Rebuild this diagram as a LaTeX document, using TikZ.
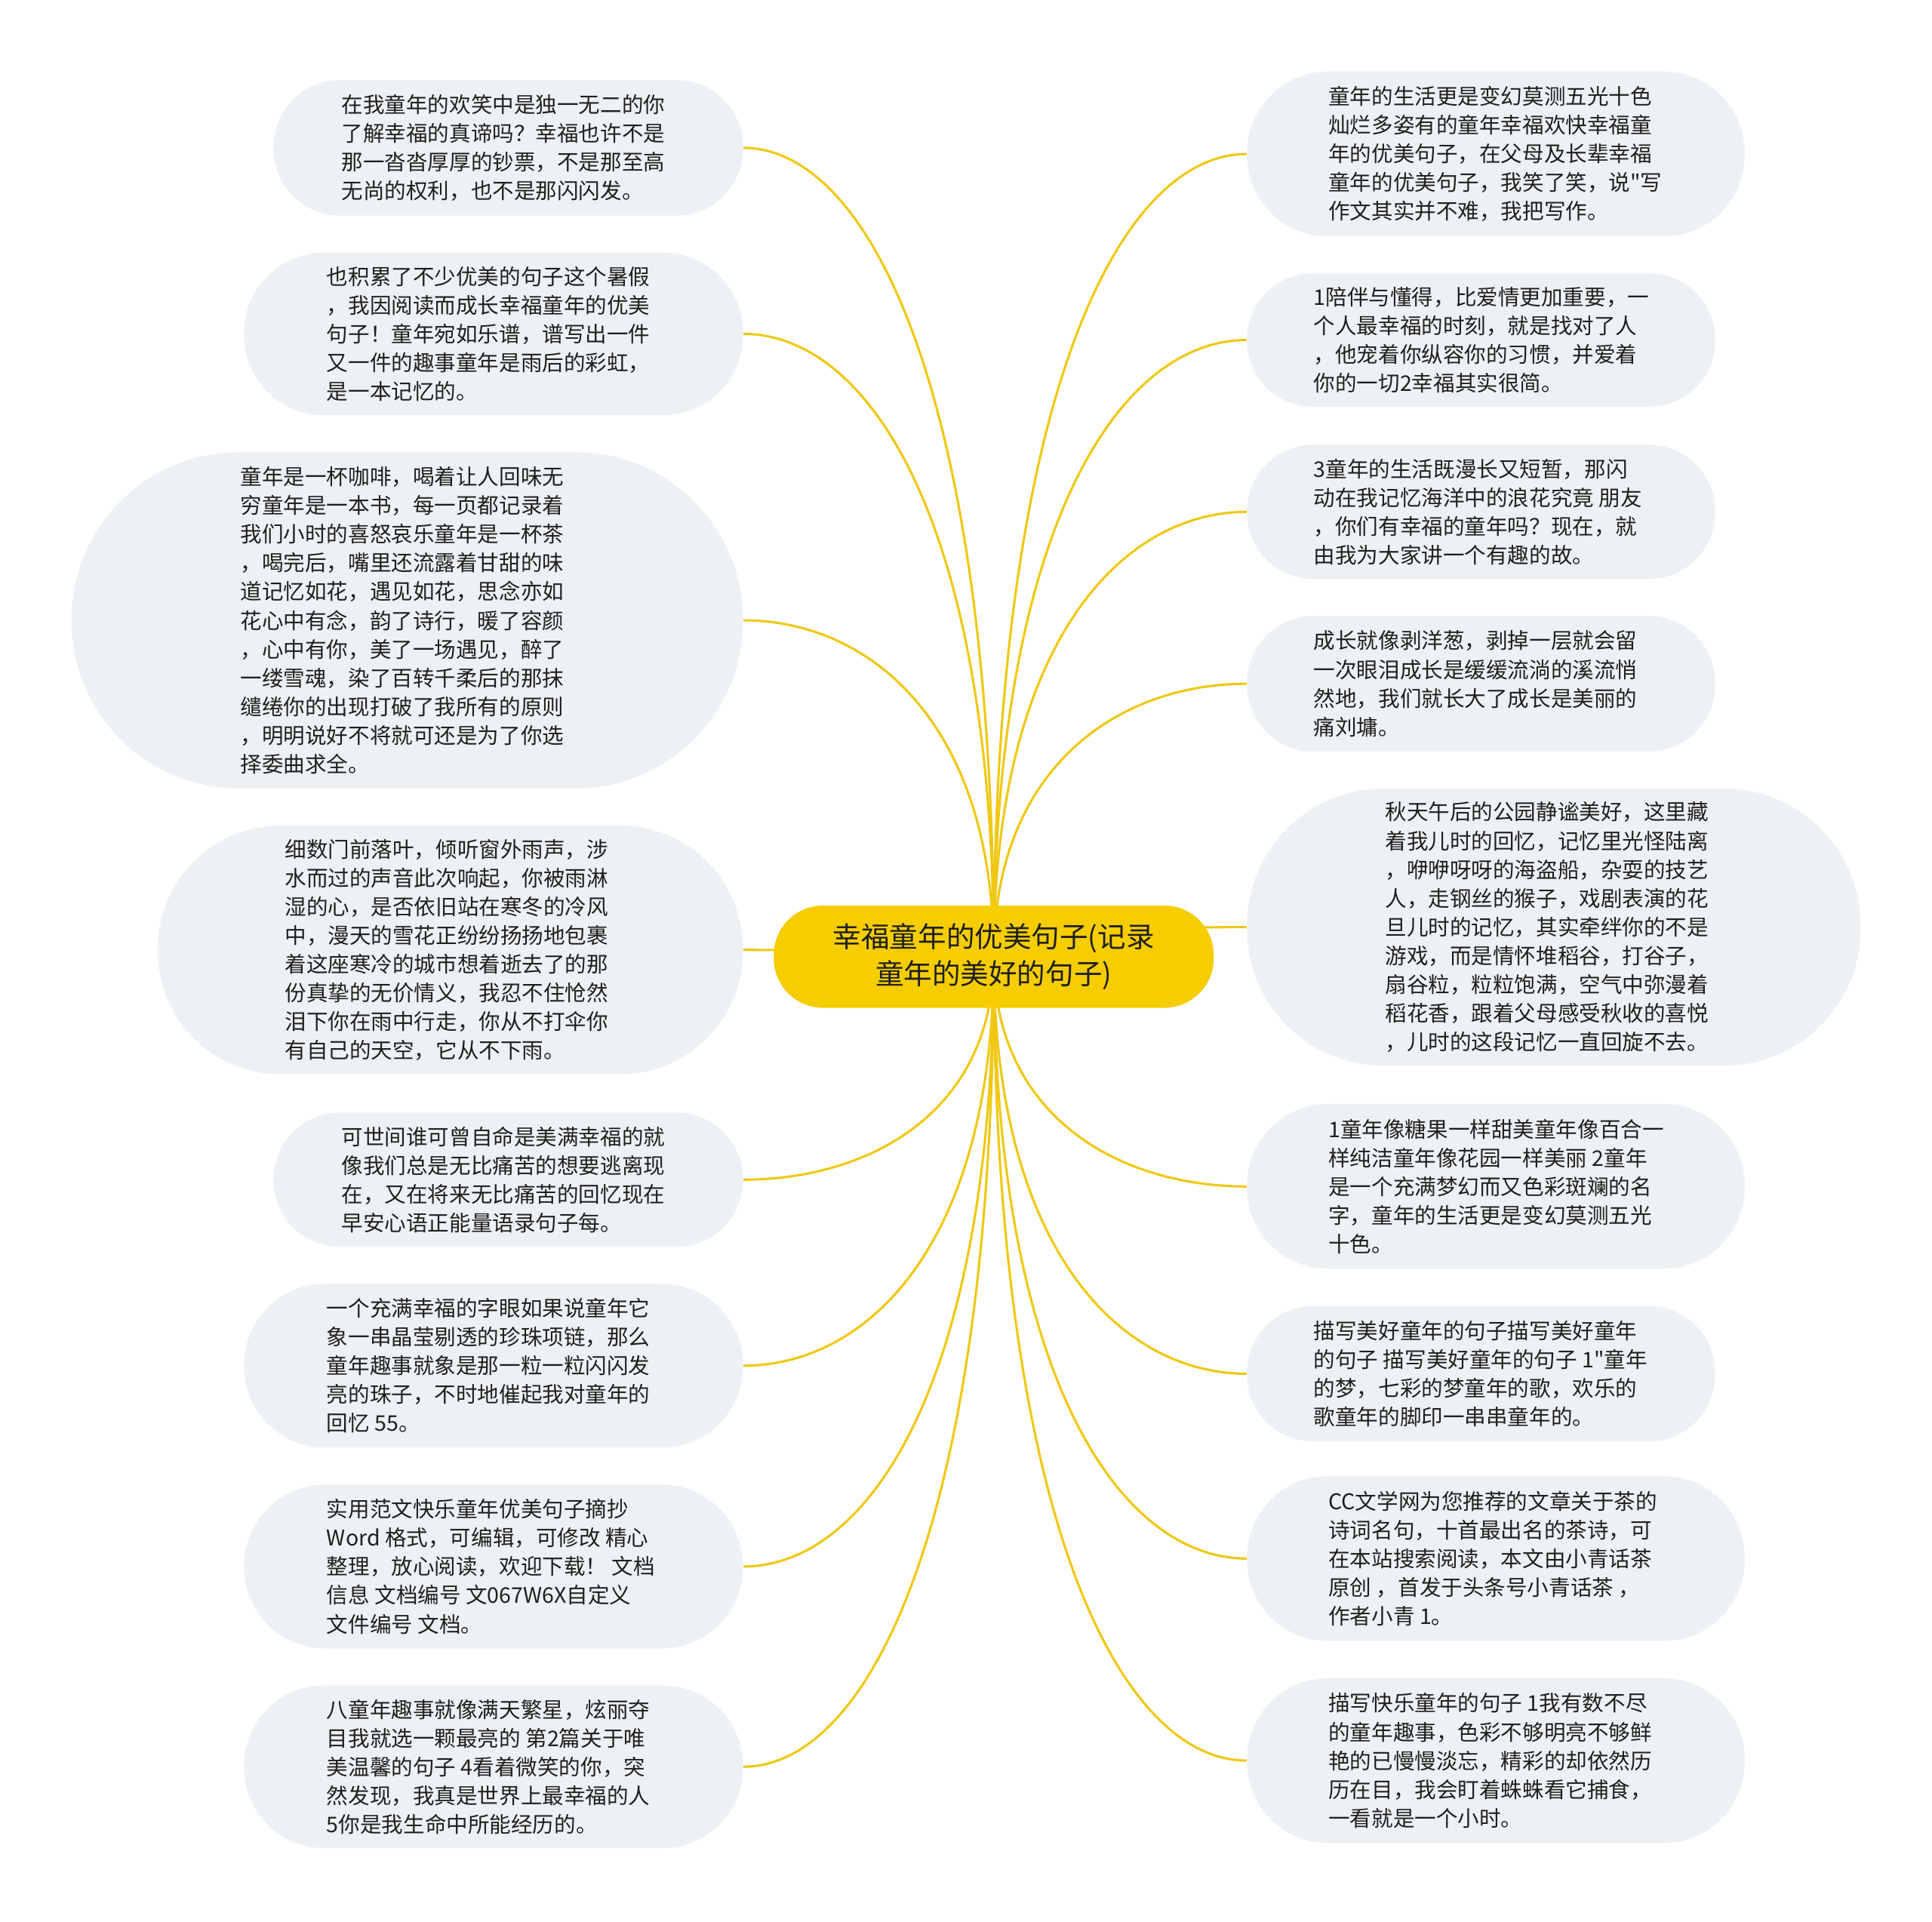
\documentclass[tikz,border=0pt]{standalone}
\usepackage{fontspec}
\setmainfont{Noto Sans CJK SC}[Ligatures=TeXOff]
\usetikzlibrary{calc}
\definecolor{rootfill}{HTML}{F5CD00}
\definecolor{linecol}{HTML}{F0C814}
\definecolor{bubfill}{HTML}{EEF1F4}
\definecolor{txtcol}{HTML}{1F1F1F}
\pgfdeclarelayer{bg}
\pgfsetlayers{bg,main}
\newcommand\bub[6]{\node[bubble, minimum width=#4pt, minimum height=#5pt, rounded corners=#6pt] (#1) at (#2,#3) {};}
\newcommand\linkto[2]{\draw[conn] (root.center) .. controls ($(root.center)!0.7!(root.center |- #1.#2)$) and ($(#1.#2)!0.5!(root.center |- #1.#2)$) .. (#1.#2);}
\begin{document}
\begin{tikzpicture}[x=1pt,y=-1pt,
  bubble/.style={draw=none, fill=bubfill, rectangle, inner sep=0pt},
  txt/.style={anchor=west, align=left, inner sep=0pt, text=txtcol, font=\fontsize{17.5}{23.3}\selectfont},
  conn/.style={draw=linecol, line width=1.9pt},
  rootbox/.style={fill=rootfill, rounded corners=40pt, minimum width=357pt, minimum height=83pt, inner sep=0pt, text=txtcol, align=center, font=\fontsize{23}{30}\selectfont}]

\useasboundingbox (0,0) rectangle (1568,1560);

% root
\node[rootbox] (root) at (806.5,776.5) {幸福童年的优美句子(记录\\童年的美好的句子)};

% left bubbles
\bub{L1}{412.5}{120}{381}{110}{54}
\bub{L2}{400.5}{271}{405}{132}{65}
\bub{L3}{330.5}{503.5}{545}{273}{136}
\bub{L4}{365.5}{771}{475}{202}{100}
\bub{L5}{412.5}{957.5}{381}{109}{54}
\bub{L6}{400.5}{1108.5}{405}{133}{66}
\bub{L7}{400.5}{1271.5}{405}{133}{66}
\bub{L8}{400.5}{1434}{405}{132}{65}
% right bubbles
\bub{R1}{1214}{125}{404}{134}{66}
\bub{R2}{1202}{276}{380}{108}{53}
\bub{R3}{1202}{415.5}{380}{109}{54}
\bub{R4}{1202}{555}{380}{110}{54}
\bub{R5}{1261}{752.5}{498}{225}{111}
\bub{R6}{1214}{963}{404}{134}{66}
\bub{R7}{1202}{1115}{380}{110}{54}
\bub{R8}{1214}{1265}{404}{134}{66}
\bub{R9}{1214}{1429}{404}{134}{66}

% connectors
\begin{pgfonlayer}{bg}
\fill[white] (0,0) rectangle (1568,1560);
\foreach \n in {L1,L2,L3,L4,L5,L6,L7,L8}{\linkto{\n}{east}}
\foreach \n in {R1,R2,R3,R4,R5,R6,R7,R8,R9}{\linkto{\n}{west}}
\end{pgfonlayer}

% texts
\node[txt] (L1t) at (277,120) {在我童年的欢笑中是独一无二的你\\了解幸福的真谛吗？幸福也许不是\\那一沓沓厚厚的钞票，不是那至高\\无尚的权利，也不是那闪闪发。};
\node[txt] (L2t) at (265,271) {也积累了不少优美的句子这个暑假\\，我因阅读而成长幸福童年的优美\\句子！童年宛如乐谱，谱写出一件\\又一件的趣事童年是雨后的彩虹，\\是一本记忆的。};
\node[txt] (L3t) at (195,503.5) {童年是一杯咖啡，喝着让人回味无\\穷童年是一本书，每一页都记录着\\我们小时的喜怒哀乐童年是一杯茶\\，喝完后，嘴里还流露着甘甜的味\\道记忆如花，遇见如花，思念亦如\\花心中有念，韵了诗行，暖了容颜\\，心中有你，美了一场遇见，醉了\\一缕雪魂，染了百转千柔后的那抹\\缱绻你的出现打破了我所有的原则\\，明明说好不将就可还是为了你选\\择委曲求全。};
\node[txt] (L4t) at (231,771) {细数门前落叶，倾听窗外雨声，涉\\水而过的声音此次响起，你被雨淋\\湿的心，是否依旧站在寒冬的冷风\\中，漫天的雪花正纷纷扬扬地包裹\\着这座寒冷的城市想着逝去了的那\\份真挚的无价情义，我忍不住怆然\\泪下你在雨中行走，你从不打伞你\\有自己的天空，它从不下雨。};
\node[txt] (L5t) at (277,957.5) {可世间谁可曾自命是美满幸福的就\\像我们总是无比痛苦的想要逃离现\\在，又在将来无比痛苦的回忆现在\\早安心语正能量语录句子每。};
\node[txt] (L6t) at (265,1108.5) {一个充满幸福的字眼如果说童年它\\象一串晶莹剔透的珍珠项链，那么\\童年趣事就象是那一粒一粒闪闪发\\亮的珠子，不时地催起我对童年的\\回忆 55。};
\node[txt] (L7t) at (265,1271.5) {实用范文快乐童年优美句子摘抄\\Word 格式，可编辑，可修改 精心\\整理，放心阅读，欢迎下载！ 文档\\信息 文档编号 文067W6X自定义\\文件编号 文档。};
\node[txt] (L8t) at (265,1434) {八童年趣事就像满天繁星，炫丽夺\\目我就选一颗最亮的 第2篇关于唯\\美温馨的句子 4看着微笑的你，突\\然发现，我真是世界上最幸福的人\\5你是我生命中所能经历的。};

\node[txt] (R1t) at (1078,125) {童年的生活更是变幻莫测五光十色\\灿烂多姿有的童年幸福欢快幸福童\\年的优美句子，在父母及长辈幸福\\童年的优美句子，我笑了笑，说"写\\作文其实并不难，我把写作。};
\node[txt] (R2t) at (1066,276) {1陪伴与懂得，比爱情更加重要，一\\个人最幸福的时刻，就是找对了人\\，他宠着你纵容你的习惯，并爱着\\你的一切2幸福其实很简。};
\node[txt] (R3t) at (1066,415.5) {3童年的生活既漫长又短暂，那闪\\动在我记忆海洋中的浪花究竟 朋友\\，你们有幸福的童年吗？现在，就\\由我为大家讲一个有趣的故。};
\node[txt] (R4t) at (1066,555) {成长就像剥洋葱，剥掉一层就会留\\一次眼泪成长是缓缓流淌的溪流悄\\然地，我们就长大了成长是美丽的\\痛刘墉。};
\node[txt] (R5t) at (1124,752.5) {秋天午后的公园静谧美好，这里藏\\着我儿时的回忆，记忆里光怪陆离\\，咿咿呀呀的海盗船，杂耍的技艺\\人，走钢丝的猴子，戏剧表演的花\\旦儿时的记忆，其实牵绊你的不是\\游戏，而是情怀堆稻谷，打谷子，\\扇谷粒，粒粒饱满，空气中弥漫着\\稻花香，跟着父母感受秋收的喜悦\\，儿时的这段记忆一直回旋不去。};
\node[txt] (R6t) at (1078,963) {1童年像糖果一样甜美童年像百合一\\样纯洁童年像花园一样美丽 2童年\\是一个充满梦幻而又色彩斑斓的名\\字，童年的生活更是变幻莫测五光\\十色。};
\node[txt] (R7t) at (1066,1115) {描写美好童年的句子描写美好童年\\的句子 描写美好童年的句子 1"童年\\的梦，七彩的梦童年的歌，欢乐的\\歌童年的脚印一串串童年的。};
\node[txt] (R8t) at (1078,1265) {CC文学网为您推荐的文章关于茶的\\诗词名句，十首最出名的茶诗，可\\在本站搜索阅读，本文由小青话茶\\原创 ，首发于头条号小青话茶 ，\\作者小青 1。};
\node[txt] (R9t) at (1078,1429) {描写快乐童年的句子 1我有数不尽\\的童年趣事，色彩不够明亮不够鲜\\艳的已慢慢淡忘，精彩的却依然历\\历在目，我会盯着蛛蛛看它捕食，\\一看就是一个小时。};
\end{tikzpicture}
\end{document}
